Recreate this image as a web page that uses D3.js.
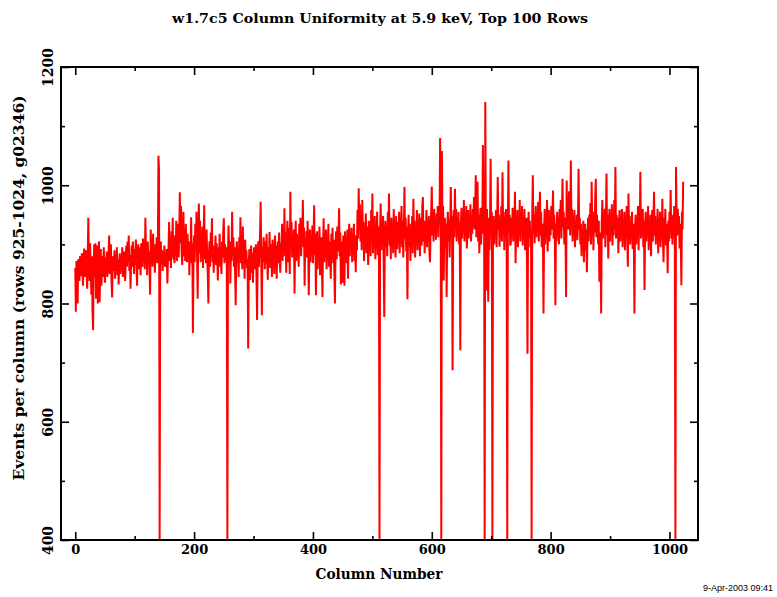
<!DOCTYPE html>
<html>
<head>
<meta charset="utf-8">
<script src="https://cdn.jsdelivr.net/npm/d3@7"></script>
<style>
  body { margin: 0; background: #fff; }
  svg { display: block; }
</style>
</head>
<body>
<div id="chart"></div>
<script>
// events per column, columns 0..1023
var counts = [
  860,786,872,868,800,875,852,838,880,862,846,885,870,830,878,893,845,868,890,862,825,880,945,870,838,902,860,815,880,790,755,868,
  900,845,902,808,870,898,800,885,905,802,850,892,830,868,880,845,895,860,835,878,850,888,845,870,882,915,850,872,900,838,810,868,
  880,855,890,842,870,865,895,848,875,832,868,885,850,878,862,895,845,872,888,858,838,880,898,862,905,870,915,855,882,825,870,898,
  862,905,878,850,892,865,908,872,830,885,900,858,895,870,848,902,880,862,910,875,890,858,945,880,898,848,905,872,888,860,815,925,
  880,905,862,918,870,895,852,900,878,912,868,898,1050,1025,400,880,905,868,890,855,882,872,898,862,885,870,892,834,878,895,938,872,
  905,860,922,880,945,875,900,868,915,882,940,872,905,935,878,918,988,902,965,888,865,925,955,880,910,872,935,895,870,918,885,905,
  848,900,872,946,868,902,750,880,915,870,935,892,955,878,808,920,969,885,940,870,905,888,930,860,912,966,875,905,868,925,880,850,
  800,885,905,862,920,878,944,870,898,852,890,872,915,865,902,878,839,895,870,918,862,890,850,905,878,922,944,868,900,872,895,880,
  400,885,932,878,905,834,890,872,955,880,912,862,895,850,797,885,905,868,890,845,912,875,946,868,902,858,930,880,895,842,908,872,
  890,860,875,724,865,892,840,878,898,852,885,835,880,895,858,872,900,842,772,885,905,862,890,920,972,878,780,895,870,912,885,858,
  905,868,918,872,840,895,878,921,860,900,885,845,908,875,892,850,915,882,898,842,888,905,868,920,878,852,902,885,935,872,912,880,
  961,885,920,852,905,940,870,928,895,850,989,902,938,878,915,888,925,817,898,940,872,918,890,910,862,935,902,945,880,920,905,975,
  895,928,830,910,885,922,878,940,895,814,902,925,870,912,888,932,868,905,966,882,918,814,895,922,858,905,875,930,848,892,912,865,
  811,898,944,870,915,882,925,858,900,878,935,862,905,885,842,918,890,928,868,908,852,800,895,922,875,930,888,912,961,880,920,832,
  905,878,835,915,890,830,922,885,912,868,925,842,905,935,880,918,895,928,870,910,888,935,872,915,853,905,890,958,910,995,925,968,
  905,945,890,975,915,938,872,925,902,952,885,930,910,865,940,898,925,880,958,905,986,885,935,912,948,875,922,900,955,882,930,910,
  400,925,969,890,935,905,948,872,777,915,940,895,925,880,955,910,986,898,935,875,945,912,930,885,960,905,925,878,948,915,892,938,
  902,955,885,925,912,965,895,940,878,920,997,910,945,888,930,807,915,950,895,935,872,925,905,948,885,977,912,940,878,930,905,958,
  890,935,912,952,880,925,945,898,965,980,905,940,885,930,918,958,895,935,910,948,888,870,925,955,998,915,945,905,960,920,940,908,
  952,925,965,912,948,935,1080,975,400,1058,935,965,839,918,945,895,935,811,925,955,905,942,878,930,997,915,948,687,925,958,912,994,
  925,960,905,945,918,955,900,938,721,935,962,910,948,925,975,905,940,915,965,893,935,958,910,945,922,968,905,940,918,960,930,980,
  925,958,1017,912,945,1006,905,950,885,935,962,900,940,918,1068,935,980,400,1141,920,822,960,875,803,945,890,935,1045,915,955,400,925,
  948,900,935,912,958,895,940,1014,925,950,896,938,912,965,905,1022,930,955,890,945,918,960,905,400,935,1042,920,950,898,901,945,918,
  962,905,940,925,989,868,935,910,958,895,945,920,975,905,950,930,965,898,940,915,960,890,935,945,905,715,930,955,910,940,895,925,
  400,945,1017,918,950,902,938,965,912,948,925,972,905,940,989,915,955,895,935,910,783,925,960,900,945,920,975,888,935,958,905,940,
  915,965,925,945,991,910,950,930,797,935,905,955,920,945,900,960,925,975,910,950,1011,928,955,900,945,920,811,1008,935,965,925,990,
  945,915,1042,930,960,905,945,920,958,895,935,912,950,907,940,1028,925,945,900,935,880,920,905,940,870,915,935,890,925,853,915,945,
  905,950,925,970,900,1006,935,955,890,945,920,980,1011,912,950,925,900,940,837,920,905,783,935,975,910,945,925,960,895,940,1020,915,
  950,876,935,960,905,945,922,968,898,940,915,975,925,1031,910,950,930,945,885,935,958,905,940,918,960,895,935,912,955,890,945,925,
  965,905,862,986,920,948,900,938,915,955,892,935,910,783,925,950,900,940,915,965,890,945,925,1023,910,955,930,960,895,940,823,930,
  955,905,945,920,965,890,935,912,950,880,930,958,905,940,989,915,948,900,935,920,960,885,940,915,955,895,935,910,977,905,870,945,
  920,960,898,935,915,851,940,905,955,925,992,910,950,900,940,925,965,905,400,1031,945,915,960,925,948,893,935,910,831,955,925,1006
];
var columns = d3.range(counts.length);

var xMajorTicks = [0, 200, 400, 600, 800, 1000];
var xMinorTicks = [100, 300, 500, 700, 900];
var yMajorTicks = [400, 600, 800, 1000, 1200];
var yMinorTicks = [500, 700, 900, 1100];

var titleText = "w1.7c5 Column Uniformity at 5.9 keV, Top 100 Rows";
var xLabelText = "Column Number";
var yLabelText = "Events per column (rows 925-1024, g02346)";
var dateText = "9-Apr-2003 09:41";

// width and height
var w = 777;
var h = 597;
var plotLeft = 61, plotRight = 698, plotTop = 67, plotBottom = 540;
var serif = "'DejaVu Serif', 'Liberation Serif', serif";

var svg = d3.select("#chart")
  .append("svg")
  .attr("width", w)
  .attr("height", h);

var xScale = d3.scaleLinear()
  .domain([-24, 1048])
  .range([plotLeft, plotRight]);

var yScale = d3.scaleLinear()
  .domain([400, 1200])
  .range([plotBottom, plotTop]);

// the data line
var line = d3.line()
  .x((d, i) => xScale(columns[i]))
  .y((d) => yScale(d));

svg.append("path")
  .datum(counts)
  .attr("d", line)
  .attr("fill", "none")
  .attr("stroke", "#ff0000")
  .attr("stroke-width", 2)
  .attr("stroke-linejoin", "miter")
  .attr("stroke-miterlimit", 1);

// axes, ticks pointing inward
function styleAxis(g) {
  g.select(".domain").remove();
  g.selectAll(".tick line").attr("stroke", "#000").attr("stroke-width", 1.6);
}

var fmt = d3.format("d");
var bottomMajor = d3.axisBottom(xScale).tickValues(xMajorTicks).tickSize(-8).tickPadding(5).tickFormat(fmt);
var bottomMinor = d3.axisBottom(xScale).tickValues(xMinorTicks).tickSize(-4).tickFormat("");
var topMajor = d3.axisTop(xScale).tickValues(xMajorTicks).tickSize(-8).tickFormat("");
var topMinor = d3.axisTop(xScale).tickValues(xMinorTicks).tickSize(-4).tickFormat("");
var leftMajor = d3.axisLeft(yScale).tickValues(yMajorTicks).tickSize(-8).tickFormat(fmt);
var leftMinor = d3.axisLeft(yScale).tickValues(yMinorTicks).tickSize(-4).tickFormat("");
var rightMajor = d3.axisRight(yScale).tickValues(yMajorTicks).tickSize(-8).tickFormat("");
var rightMinor = d3.axisRight(yScale).tickValues(yMinorTicks).tickSize(-4).tickFormat("");

svg.append("g").attr("transform", "translate(0," + plotBottom + ")").call(bottomMajor).call(styleAxis);
svg.append("g").attr("transform", "translate(0," + plotBottom + ")").call(bottomMinor).call(styleAxis);
svg.append("g").attr("transform", "translate(0," + plotTop + ")").call(topMajor).call(styleAxis);
svg.append("g").attr("transform", "translate(0," + plotTop + ")").call(topMinor).call(styleAxis);
var yAxisG = svg.append("g").attr("transform", "translate(" + plotLeft + ",0)").call(leftMajor).call(styleAxis);
svg.append("g").attr("transform", "translate(" + plotLeft + ",0)").call(leftMinor).call(styleAxis);
svg.append("g").attr("transform", "translate(" + plotRight + ",0)").call(rightMajor).call(styleAxis);
svg.append("g").attr("transform", "translate(" + plotRight + ",0)").call(rightMinor).call(styleAxis);

// frame
svg.append("rect")
  .attr("x", plotLeft)
  .attr("y", plotTop)
  .attr("width", plotRight - plotLeft)
  .attr("height", plotBottom - plotTop)
  .attr("fill", "none")
  .attr("stroke", "#000")
  .attr("stroke-width", 2);

// tick label fonts
svg.selectAll(".tick text")
  .attr("font-family", serif)
  .attr("font-weight", "bold")
  .attr("font-size", "13px")
  .attr("fill", "#000");

// y labels are rotated
yAxisG.selectAll(".tick text")
  .attr("transform", "rotate(-90)")
  .attr("x", 0)
  .attr("y", -8)
  .attr("dy", "0")
  .attr("font-size", "14px")
  .attr("text-anchor", "middle");

// titles
svg.append("text")
  .text(titleText)
  .attr("x", 380)
  .attr("y", 23)
  .attr("text-anchor", "middle")
  .attr("font-family", serif)
  .attr("font-weight", "bold")
  .attr("font-size", "13px")
  .attr("textLength", 416)
  .attr("lengthAdjust", "spacingAndGlyphs");

svg.append("text")
  .text(xLabelText)
  .attr("x", 379)
  .attr("y", 579)
  .attr("text-anchor", "middle")
  .attr("font-family", serif)
  .attr("font-weight", "bold")
  .attr("font-size", "15px")
  .attr("textLength", 127)
  .attr("lengthAdjust", "spacingAndGlyphs");

svg.append("text")
  .text(yLabelText)
  .attr("transform", "translate(24,288) rotate(-90)")
  .attr("text-anchor", "middle")
  .attr("font-family", serif)
  .attr("font-weight", "bold")
  .attr("font-size", "15px")
  .attr("textLength", 385)
  .attr("lengthAdjust", "spacingAndGlyphs");

svg.append("text")
  .text(dateText)
  .attr("x", 773)
  .attr("y", 591)
  .attr("text-anchor", "end")
  .attr("font-family", "'Liberation Sans', Arial, sans-serif")
  .attr("font-size", "9px");
</script>
</body>
</html>
